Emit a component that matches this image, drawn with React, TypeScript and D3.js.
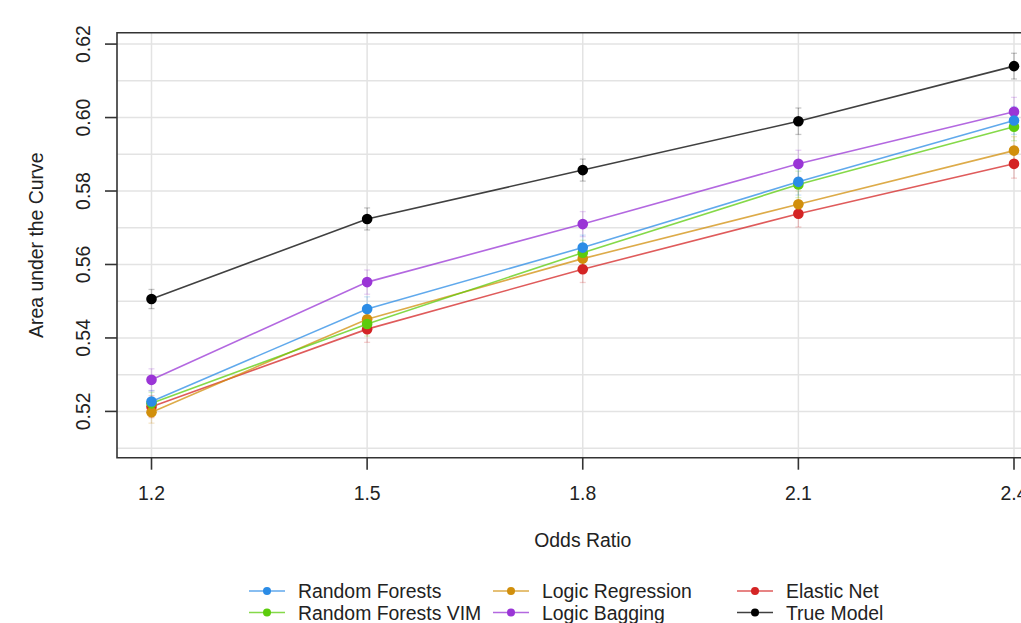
import React from 'react';
import * as d3 from 'd3';

// odds ratios on the x axis
const oddsRatios = [1.2, 1.5, 1.8, 2.1, 2.4];
const yTicks = [0.52, 0.54, 0.56, 0.58, 0.6, 0.62];

// mean AUC per method
const randomForests = [0.5227, 0.5479, 0.5646, 0.5825, 0.5992];
const randomForestsVim = [0.5222, 0.5438, 0.5632, 0.5818, 0.5975];
const logicRegression = [0.5198, 0.5451, 0.5616, 0.5764, 0.591];
const logicBagging = [0.5286, 0.5552, 0.571, 0.5874, 0.6016];
const elasticNet = [0.5213, 0.5424, 0.5587, 0.5738, 0.5874];
const trueModel = [0.5506, 0.5724, 0.5857, 0.599, 0.614];

// half-widths of the error bars
const errRandomForests = [0.003, 0.0033, 0.0034, 0.0036, 0.0038];
const errRandomForestsVim = [0.003, 0.0033, 0.0034, 0.0036, 0.0038];
const errLogicRegression = [0.003, 0.0033, 0.0035, 0.0036, 0.0038];
const errLogicBagging = [0.003, 0.0033, 0.0034, 0.0037, 0.0039];
const errElasticNet = [0.003, 0.0036, 0.0036, 0.0036, 0.0039];
const errTrueModel = [0.0026, 0.003, 0.003, 0.0036, 0.0035];

const series = [
  { name: 'Random Forests', values: randomForests, err: errRandomForests, color: '#2b8ce6' },
  { name: 'Random Forests VIM', values: randomForestsVim, err: errRandomForestsVim, color: '#5ccc0c' },
  { name: 'Logic Regression', values: logicRegression, err: errLogicRegression, color: '#d18f0c' },
  { name: 'Logic Bagging', values: logicBagging, err: errLogicBagging, color: '#9a35d6' },
  { name: 'Elastic Net', values: elasticNet, err: errElasticNet, color: '#d42424' },
  { name: 'True Model', values: trueModel, err: errTrueModel, color: '#000000' },
];

// legend is filled column by column (like R's legend with ncol = 3)
const legendOrder = [
  'Random Forests',
  'Random Forests VIM',
  'Logic Regression',
  'Logic Bagging',
  'Elastic Net',
  'True Model',
];

const W = 1021;
const H = 623;
const left = 117;
const right = 1048.5;
const top = 32.7;
const bottom = 457.7;
const font = '"Liberation Sans", Arial, Helvetica, sans-serif';
const fs = 19.4;

export default function App() {
  const x = d3.scaleLinear().domain([1.152, 2.448]).range([left, right]);
  const y = d3.scaleLinear().domain([0.5074, 0.6231]).range([bottom, top]);
  const grid = d3.range(0.51, 0.6205, 0.01);

  const line = d3
    .line<number>()
    .x((d, i) => x(oddsRatios[i]))
    .y((d) => y(d));

  const drawOrder = [...series].reverse(); // true model at the back

  return (
    <svg
      width={W}
      height={H}
      style={{ position: 'absolute', left: 0, top: 0, background: '#fff' }}
      fontFamily={font}
    >
      <rect x={0} y={0} width={W} height={H} fill="#fff" />

      {/* grid */}
      {grid.map((g) => (
        <line key={'h' + g} x1={left} x2={right} y1={y(g)} y2={y(g)} stroke="#e3e3e3" strokeWidth={1.5} />
      ))}
      {oddsRatios.map((o) => (
        <line key={'v' + o} x1={x(o)} x2={x(o)} y1={top} y2={bottom} stroke="#e3e3e3" strokeWidth={1.5} />
      ))}

      {/* error bars */}
      {drawOrder.map((s) =>
        s.values.map((v, i) => {
          const cx = x(oddsRatios[i]);
          const y1 = y(v + s.err[i]);
          const y2 = y(v - s.err[i]);
          return (
            <g key={s.name + 'e' + i} stroke={s.color} strokeOpacity={0.22} strokeWidth={1.3}>
              <line x1={cx} x2={cx} y1={y1} y2={y2} />
              <line x1={cx - 3} x2={cx + 3} y1={y1} y2={y1} />
              <line x1={cx - 3} x2={cx + 3} y1={y2} y2={y2} />
            </g>
          );
        })
      )}

      {/* lines and points */}
      {drawOrder.map((s) => (
        <g key={s.name}>
          <path d={line(s.values) || ''} fill="none" stroke={s.color} strokeOpacity={0.75} strokeWidth={1.6} />
          {s.values.map((v, i) => (
            <circle key={i} cx={x(oddsRatios[i])} cy={y(v)} r={5.3} fill={s.color} />
          ))}
        </g>
      ))}

      {/* box */}
      <path
        d={`M${right},${top}H${left}V${bottom}H${right}`}
        fill="none"
        stroke="#333"
        strokeWidth={1.6}
      />

      {/* y axis */}
      {yTicks.map((t) => (
        <g key={'yt' + t}>
          <line x1={left - 12} x2={left} y1={y(t)} y2={y(t)} stroke="#333" strokeWidth={1.6} />
          <text
            transform={`translate(90,${y(t)}) rotate(-90)`}
            textAnchor="middle"
            fontSize={fs}
            fill="#222"
          >
            {t.toFixed(2)}
          </text>
        </g>
      ))}
      <text
        transform={`translate(43,${(top + bottom) / 2}) rotate(-90)`}
        textAnchor="middle"
        fontSize={fs}
        fill="#222"
      >
        Area under the Curve
      </text>

      {/* x axis */}
      {oddsRatios.map((o) => (
        <g key={'xt' + o}>
          <line x1={x(o)} x2={x(o)} y1={bottom} y2={bottom + 12} stroke="#333" strokeWidth={1.6} />
          <text x={x(o)} y={500} textAnchor="middle" fontSize={fs} fill="#222">
            {o.toFixed(1)}
          </text>
        </g>
      ))}
      <text x={(left + right) / 2} y={547} textAnchor="middle" fontSize={fs} fill="#222">
        Odds Ratio
      </text>

      {/* legend */}
      {legendOrder.map((name, k) => {
        const s = series.find((d) => d.name === name)!;
        const col = Math.floor(k / 2);
        const row = k % 2;
        const px = 267 + col * 244;
        const py = 591 + row * 21.5;
        return (
          <g key={'lg' + name}>
            <line x1={px - 18} x2={px + 18} y1={py} y2={py} stroke={s.color} strokeOpacity={0.75} strokeWidth={1.6} />
            <circle cx={px} cy={py} r={4} fill={s.color} />
            <text x={px + 31} y={py + 7} fontSize={fs} fill="#222">
              {name}
            </text>
          </g>
        );
      })}
    </svg>
  );
}
